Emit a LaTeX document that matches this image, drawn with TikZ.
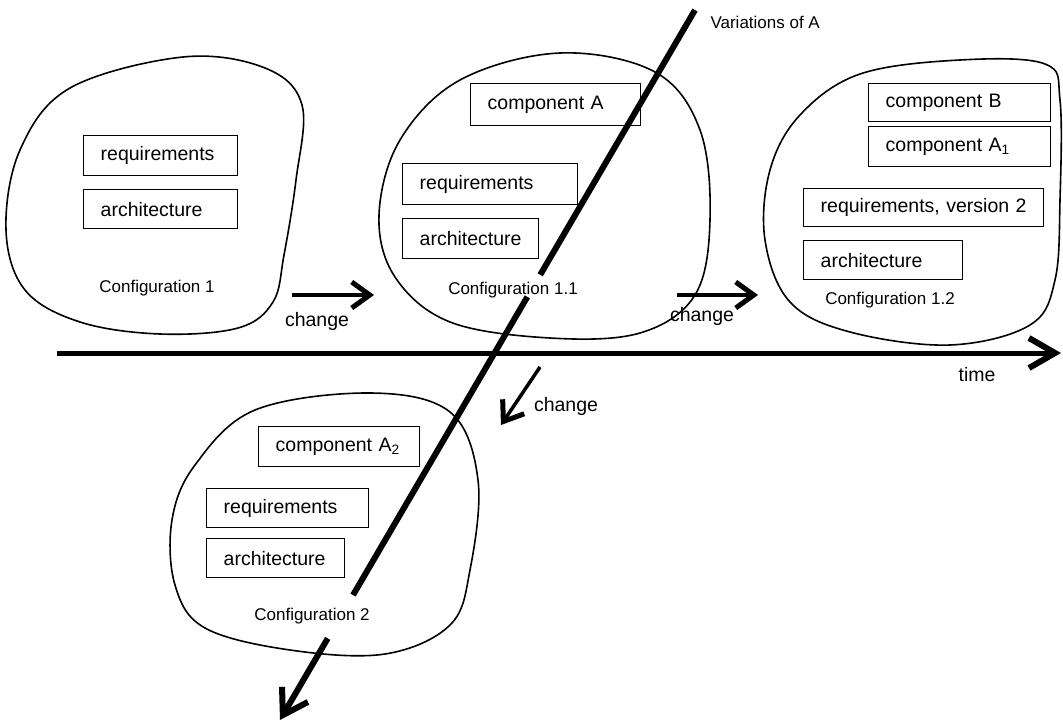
\documentclass[tikz,border=0pt]{standalone}
\usepackage{fontspec}
\setmainfont{Liberation Sans}
\usetikzlibrary{arrows.meta,calc}
\begin{document}
\begin{tikzpicture}[x=1pt,y=-1pt,
  blob/.style={line width=1.6pt, line join=round},
  box/.style={draw, line width=1.4pt, fill=white, anchor=north west,
    inner xsep=17pt, inner ysep=0pt, align=left,
    font=\fontsize{19.5}{22}\selectfont},
  cfg/.style={font=\fontsize{17}{20}\selectfont},
  lbl/.style={font=\fontsize{19.5}{22}\selectfont},
  axis/.style={line width=5pt, -{Straight Barb[length=26pt,width=30pt,line width=6pt]}},
  chg/.style={line width=3.5pt, -{Straight Barb[length=18pt,width=26pt,line width=5pt]}},
  varline/.style={line width=6pt},
  varhead/.style={line width=6pt, -{Straight Barb[length=24pt,width=30pt,line width=6pt]}}
]
\useasboundingbox (0,0) rectangle (1063,723);

% configuration outlines
\draw[blob] plot[smooth cycle, tension=0.6] coordinates {
  (183,57) (265,68) (302,105) (296,180) (284,255) (273,302) (238,328)
  (160,334) (80,322) (25,290) (6,230) (20,150) (70,88)};
\draw[blob] plot[smooth cycle, tension=0.6] coordinates {
  (560,53) (655,72) (700,130) (710,220) (695,295) (640,333) (550,338)
  (450,322) (395,277) (379,215) (400,140) (460,80)};
\draw[blob] plot[smooth cycle, tension=0.6] coordinates {
  (860,74) (960,60) (1045,64) (1060,100) (1060,200) (1055,280) (1030,325)
  (950,345) (850,332) (790,302) (765,240) (770,170) (800,115)};
\draw[blob] plot[smooth cycle, tension=0.6] coordinates {
  (370,393) (450,412) (478,480) (470,570) (450,625) (385,654) (290,650)
  (205,628) (175,585) (172,520) (195,465) (255,410)};

% Configuration 1
\node[box, text width=120pt, minimum height=40pt] (r1) at (83,135) {requirements};
\node[box, text width=120pt, minimum height=39pt] (a1) at (83,189) {architecture};
\node[cfg] (cfg1) at (157,288) {Configuration 1};

% Configuration 1.1
\node[box, text width=136pt, minimum height=42pt] (cA) at (470,83) {component A};
\node[box, text width=141pt, minimum height=41pt] (r11) at (402,163) {requirements};
\node[box, text width=102pt, minimum height=40pt] (a11) at (402,218) {architecture};
\node[cfg] (cfg11) at (513,290) {Configuration 1.1};

% Configuration 1.2
\node[box, text width=148pt, minimum height=38pt] (cB) at (868,83) {component B};
\node[box, text width=148pt, minimum height=40pt] (cA1) at (868,126) {component A\textsubscript{1}};
\node[box, text width=206pt, minimum height=38pt] (r12) at (803,188) {requirements, version 2};
\node[box, text width=125pt, minimum height=39pt] (a12) at (803,240) {architecture};
\node[cfg] (cfg12) at (890,300) {Configuration 1.2};

% Configuration 2
\node[box, text width=127pt, minimum height=40pt] (cA2) at (258,426) {component A\textsubscript{2}};
\node[box, text width=128pt, minimum height=39pt] (r2) at (206,488) {requirements};
\node[box, text width=104pt, minimum height=39pt] (a2) at (206,538) {architecture};
\node[cfg] (cfg2) at (312,616) {Configuration 2};

% time axis
\coordinate (t0) at (57,353);
\coordinate (t1) at (1061,353);
\draw[axis] (t0) -- (t1);
\node[lbl] (time) at (977,375) {time};

% change arrows
\coordinate (c1s) at (292,295);
\coordinate (c1e) at (374,295);
\draw[chg] (c1s) -- (c1e);
\node[lbl] (ch1) at (317,321) {change};

\coordinate (c2s) at (677,295);
\coordinate (c2e) at (758,295);
\draw[chg] (c2s) -- (c2e);
\node[lbl] (ch2) at (702,316) {change};

\coordinate (c3s) at (540,367);
\coordinate (c3e) at (501,425);
\draw[chg] (c3s) -- (c3e);
\node[lbl] (ch3) at (566,406) {change};

% variations of component A
\coordinate (vt) at (695,10);
\coordinate (vb) at (280,720);
\draw[varline] (vt) -- ($(vt)!0.373!(vb)$);
\draw[varline] ($(vt)!0.404!(vb)$) -- ($(vt)!0.824!(vb)$);
\draw[varhead] ($(vt)!0.885!(vb)$) -- (vb);
\node[cfg, anchor=west] (var) at (707,22) {Variations of A};

\end{tikzpicture}
\end{document}
